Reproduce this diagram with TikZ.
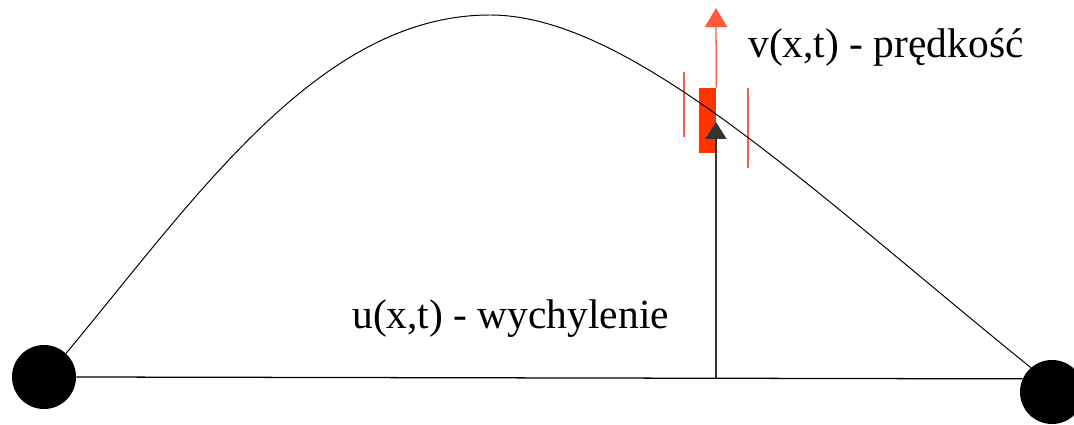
\documentclass[tikz,border=0pt]{standalone}
\usepackage{fontspec}
\setmainfont{Liberation Serif}
\usetikzlibrary{arrows.meta}

\definecolor{elemred}{HTML}{FF3300}
\definecolor{linered}{HTML}{FF5A3C}

\begin{document}
\begin{tikzpicture}[
  x=0.025cm, y=-0.025cm,
  every node/.style={inner sep=0pt},
  mass/.style={circle, fill=black, minimum size=1.6cm},
  elem/.style={rectangle, fill=elemred, minimum width=0.425cm, minimum height=1.625cm},
  string/.style={draw, line width=0.7pt},
  marker/.style={draw=linered, line width=0.9pt},
  label/.style={font=\fontsize{29.5}{34}\selectfont, anchor=base west},
  uarrow/.style={draw=black!80, line width=0.9pt, -{Triangle[width=0.52cm, length=0.42cm]}},
  varrow/.style={draw=linered, line width=0.9pt, -{Triangle[width=0.56cm, length=0.48cm]}}]

  \useasboundingbox (0,0) rectangle (1074,425);

  % --- the two fixed ends and the rest line between them ---
  \node[mass] (mL) at (44,377) {};
  \node[mass] (mR) at (1052,392) {};
  \draw[line width=0.9pt] (mL.east) -- (mR.156);

  % --- the small piece of string and its velocity ---
  \node[elem] (piece) at (707.5,120.5) {};
  \coordinate (vtip) at (716,8);
  \draw[varrow] (piece.north east) -- (vtip);
  \draw[marker] (684,72) -- (684,137);
  \draw[marker] (748,88) -- (748,168);

  % --- the string itself ---
  \coordinate (top) at (490,15);
  \draw[string] (mL.47) .. controls (197,196) and (320,15) .. (top)
                        .. controls (630,15) and (810,189) .. (mR.131);

  % --- displacement ---
  \coordinate (foot) at (716,378);
  \coordinate (utip) at (716,122);
  \draw[uarrow] (foot) -- (utip);

  \node[label] (ulab) at (352,329) {u(x,t) - wychylenie};
  \node[label] (vlab) at (748,58) {v(x,t) - prędkość};

\end{tikzpicture}
\end{document}
